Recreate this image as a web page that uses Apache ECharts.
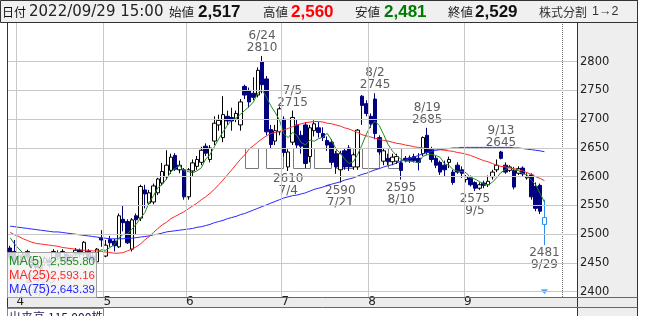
<!DOCTYPE html>
<html><head><meta charset="utf-8">
<script src="https://cdn.jsdelivr.net/npm/echarts@6/dist/echarts.min.js"></script>
<style>html,body{margin:0;padding:0;background:#fff}#c{width:645px;height:316px}</style>
</head><body><div id="c"></div>
<script>
const tradingDates = [
'3/30','3/31',
'4/1','4/4','4/5','4/6','4/7','4/8','4/11','4/12','4/13','4/14','4/15','4/18','4/19','4/20','4/21','4/22','4/25','4/26','4/27','4/28',
'5/2','5/6','5/9','5/10','5/11','5/12','5/13','5/16','5/17','5/18','5/19','5/20','5/23','5/24','5/25','5/26','5/27','5/30','5/31',
'6/1','6/2','6/3','6/6','6/7','6/8','6/9','6/10','6/13','6/14','6/15','6/16','6/17','6/20','6/21','6/22','6/23','6/24','6/27','6/28','6/29','6/30',
'7/1','7/4','7/5','7/6','7/7','7/8','7/11','7/12','7/13','7/14','7/15','7/19','7/20','7/21','7/22','7/25','7/26','7/27','7/28','7/29',
'8/1','8/2','8/3','8/4','8/5','8/8','8/9','8/10','8/12','8/15','8/16','8/17','8/18','8/19','8/22','8/23','8/24','8/25','8/26','8/29','8/30','8/31',
'9/1','9/2','9/5','9/6','9/7','9/8','9/9','9/12','9/13','9/14','9/15','9/16','9/20','9/21','9/22','9/26','9/27','9/28','9/29'];
const futureDates = ['9/30','10/3','10/4','10/5','10/6','10/7','10/11'];

const opens = [2476,2470,
2452,2458,2470,2455,2448,2440,2450,2455,2448,2468,2458,2465,2455,2466,2472,2466,2470,2462,2452,2493,
2462,2491,2488,2478,2526,2522,2474,2532,2528,2577,2554,2556,2572,2589,2600,2611,2637,2612,2612,
2565,2610,2618,2625,2653,2630,2662,2690,2668,2705,2703,2700,2690,2757,2750,2745,2742,2800,2770,2682,2662,2678,
2700,2617,2660,2690,2672,2690,2635,2680,2685,2675,2663,2660,2640,2612,2645,2650,2617,2617,2740,2727,
2705,2735,2668,2627,2632,2626,2627,2624,2632,2633,2635,2632,2640,2672,2648,2632,2625,2620,2625,2608,2620,2612,
2595,2598,2590,2580,2589,2586,2600,2612,2643,2620,2611,2611,2606,2615,2598,2603,2583,2585,2517];
const highs = [2480,2490,
2466,2468,2473,2460,2452,2455,2462,2460,2474,2472,2474,2468,2465,2476,2475,2488,2474,2468,2476,2507,
2490,2497,2492,2536,2550,2526,2528,2536,2586,2586,2577,2588,2598,2624,2646,2640,2641,2628,2615,
2615,2630,2636,2652,2658,2655,2705,2708,2740,2715,2720,2715,2735,2760,2755,2773,2790,2810,2775,2690,2690,2722,
2705,2648,2715,2700,2680,2695,2690,2698,2695,2686,2670,2665,2645,2645,2650,2655,2642,2683,2742,2733,
2710,2745,2672,2650,2640,2640,2640,2628,2636,2637,2640,2641,2670,2685,2652,2636,2628,2628,2635,2612,2625,2618,
2603,2602,2592,2590,2593,2602,2612,2630,2645,2625,2620,2617,2618,2618,2606,2606,2590,2588,2560];
const lows = [2455,2450,
2445,2450,2455,2440,2438,2435,2445,2442,2445,2455,2452,2450,2448,2462,2460,2462,2455,2450,2449,2478,
2460,2478,2470,2476,2505,2483,2470,2500,2523,2545,2550,2552,2568,2585,2595,2605,2610,2606,2560,
2560,2600,2612,2620,2636,2625,2655,2680,2660,2690,2680,2695,2680,2735,2720,2733,2738,2745,2672,2650,2655,2672,
2635,2610,2655,2650,2640,2615,2625,2670,2668,2662,2645,2620,2605,2590,2612,2610,2612,2612,2690,2705,
2685,2665,2638,2620,2620,2620,2622,2595,2625,2624,2625,2611,2636,2638,2625,2615,2603,2600,2615,2586,2605,2598,
2590,2583,2575,2577,2580,2582,2595,2608,2630,2605,2608,2578,2603,2600,2595,2560,2540,2535,2481];
const closes = [2460,2455,
2462,2464,2460,2445,2442,2450,2458,2446,2470,2460,2470,2455,2462,2472,2465,2486,2460,2455,2474,2490,
2481,2485,2480,2532,2520,2485,2525,2525,2583,2570,2572,2584,2596,2609,2620,2634,2613,2620,2565,
2612,2624,2630,2646,2641,2650,2693,2698,2708,2697,2697,2710,2730,2742,2730,2738,2785,2760,2678,2656,2680,2718,
2642,2643,2703,2655,2653,2623,2685,2692,2677,2668,2655,2625,2617,2640,2617,2617,2638,2681,2724,2710,
2692,2675,2643,2645,2626,2634,2635,2611,2628,2628,2628,2625,2668,2642,2630,2620,2608,2612,2630,2590,2608,2606,
2600,2586,2580,2586,2585,2592,2608,2620,2632,2608,2617,2582,2614,2605,2600,2565,2545,2540,2529];
const priorCloses = [2510,2505,2500,2495];

const ma25 = [2503,2499,2496,2492,2489,2486,2484,2483,2482,2481,
2480,2479,2477,2476,2475,2474,2473,2472,2472,2471,
2471,2470,2469,2468,2467,2467,2468,2471,2474,2478,
2483,2490,2496,2503,2510,2516,2521,2527,2531,2535,
2539,2544,2549,2554,2560,2565,2571,2578,2586,2594,
2603,2612,2621,2630,2638,2648,2654,2660,2666,2671,
2675,2677,2679,2681,2684,2687,2690,2692,2694,2695,
2696,2696,2695,2693,2692,2690,2688,2685,2683,2680,
2677,2673,2671,2669,2667,2665,2663,2662,2660,2658,
2657,2655,2654,2652,2651,2650,2649,2648,2648,2647,
2646,2645,2644,2642,2641,2639,2637,2634,2631,2628,
2626,2623,2620,2618,2617,2615,2614,2612,2610,2607,
2604,2600,2597,2593.16];
const ma75 = [2514,2513,2512,2511,2510,2509,2508,2507,2506,2505,
2504,2504,2503,2502,2501,2500,2499,2498,2497,2496,
2495,2494,2493,2492,2492,2492,2492,2493,2493,2494,
2495,2496,2497,2499,2500,2502,2504,2505,2506,2507,
2508,2509,2510,2512,2513,2515,2517,2520,2522,2524,
2527,2529,2531,2534,2536,2539,2542,2545,2548,2551,
2554,2557,2560,2563,2565,2567,2568,2570,2572,2575,
2578,2580,2582,2585,2587,2589,2591,2594,2596,2598,
2601,2604,2606,2609,2612,2614,2617,2619,2621,2624,
2627,2629,2632,2634,2637,2640,2642,2644,2646,2647,
2648,2649,2650,2650,2651,2651,2651,2651,2651,2651,
2651,2651,2651,2651,2651,2651,2650,2650,2649,2648,
2647,2646,2645,2643.39];

const yTicks = [2400,2450,2500,2550,2600,2650,2700,2750,2800];
const monthStarts = {'4/1':'4','5/2':'5','6/1':'6','7/1':'7','8/1':'8','9/1':'9'};
const highMarks = [['6/24',2810],['7/5',2715],['8/2',2745],['8/19',2685],['9/13',2645]];
const lowMarks = [['4/8',2435],['7/4',2610],['7/21',2590],['8/10',2595],['9/5',2575],['9/29',2481]];
const boxes = [[53.5,57.2,2616,2650],[59,62.7,2616,2650],[64.5,68.5,2616,2650],[69.8,73.8,2616,2650],[75.4,79.2,2616,2650],[81,84.7,2616,2650],[86.6,90.2,2616,2650]];
const splitMarks = [['9/29',2400]];
const splitDate = '9/29';
const dottedLineAt = 127.4;
const headerDate = '2022/09/29 15:00';
const headerLabels = ['始値','高値','安値','終値'];
const headerValues = ['2,517','2,560','2,481','2,529'];
const splitText = ['株式分割','1→2'];
const maNames = ['MA(5)','MA(25)','MA(75)'];
const maValues = ['2,555.80','2,593.16','2,643.39'];
const volumeText = ['出来高','115,000株'];

const categories = tradingDates.concat(futureDates);
const allCloses = priorCloses.concat(closes);
const ma5 = closes.map((c,i)=>{let s=0;for(let k=0;k<5;k++)s+=allCloses[i+4-k];return +(s/5).toFixed(2);});
const candleData = tradingDates.map((d,i)=>{
  const v=[opens[i],closes[i],lows[i],highs[i]];
  if(d===splitDate) return {value:v,itemStyle:{color:'#ffffff',borderColor:'#2b8ef0',color0:'#ffffff',borderColor0:'#2b8ef0'}};
  return v;
});

const CJK = '"Noto Sans CJK JP", sans-serif';
const LAT = '"DejaVu Sans", "Noto Sans CJK JP", sans-serif';
const ARI = '"Liberation Sans", "Noto Sans CJK JP", sans-serif';
const MA_COLORS = ['#1f8a1f','#ff2828','#2828ff'];
const chart = echarts.init(document.getElementById('c'), null, {renderer:'canvas'});

const g = [];
g.push({type:'rect', z:1, shape:{x:577,y:23,width:61,height:293}, style:{fill:'#eeeeee'}});
g.push({type:'rect', z:1, shape:{x:8,y:297,width:630,height:10}, style:{fill:'#ececec'}});
g.push({type:'line', z:40, shape:{x1:7.5,y1:22,x2:7.5,y2:316}, style:{stroke:'#333',lineWidth:1}});
g.push({type:'line', z:40, shape:{x1:577.5,y1:22,x2:577.5,y2:316}, style:{stroke:'#333',lineWidth:1}});
g.push({type:'line', z:40, shape:{x1:637.5,y1:0,x2:637.5,y2:316}, style:{stroke:'#333',lineWidth:1}});
g.push({type:'line', z:40, shape:{x1:7.5,y1:297.5,x2:637.5,y2:297.5}, style:{stroke:'#666',lineWidth:1}});
g.push({type:'line', z:40, shape:{x1:7.5,y1:307.5,x2:637.5,y2:307.5}, style:{stroke:'#666',lineWidth:1}});
g.push({type:'rect', z:30, shape:{x:0.5,y:0.5,width:637,height:22}, style:{fill:'#f0f0f0',stroke:'#333',lineWidth:1}});
const hy = 12;
g.push({type:'text', z:31, style:{x:2,y:hy,text:'日付',fontSize:12,fontFamily:CJK,fill:'#111',verticalAlign:'middle'}});
g.push({type:'text', z:31, style:{x:29,y:hy,text:headerDate,fontSize:15,fontFamily:LAT,fill:'#222',verticalAlign:'middle'}});
const hLabelX = [169,263,355,448], hValX = [198,291,384,475];
const hValColors = ['#111','#ff0000','#007a00','#111'];
headerLabels.forEach((t,k)=>{
  g.push({type:'text', z:31, style:{x:hLabelX[k],y:hy,text:t,fontSize:12.5,fontFamily:CJK,fill:'#222',verticalAlign:'middle'}});
  g.push({type:'text', z:31, style:{x:hValX[k],y:hy,text:headerValues[k],fontSize:17,fontWeight:'bold',fontFamily:ARI,fill:hValColors[k],verticalAlign:'middle'}});
});
g.push({type:'text', z:31, style:{x:539,y:hy,text:splitText[0],fontSize:12,fontFamily:CJK,fill:'#333',verticalAlign:'middle'}});
g.push({type:'text', z:31, style:{x:592,y:hy,text:splitText[1],fontSize:12.5,fontFamily:ARI,fill:'#333',verticalAlign:'middle'}});
g.push({type:'rect', z:50, shape:{x:7.5,y:252.5,width:89,height:45}, style:{fill:'rgba(242,242,242,0.85)',stroke:'#a0a0a0',lineWidth:1}});
const legY = [261.5,275.5,289.5];
maNames.forEach((t,k)=>{
  g.push({type:'text', z:51, style:{x:9,y:legY[k],text:t,fontSize:12.5,fontFamily:ARI,fill:MA_COLORS[k],verticalAlign:'middle'}});
  g.push({type:'text', z:51, style:{x:95,y:legY[k],text:maValues[k],fontSize:11.5,fontFamily:ARI,fill:MA_COLORS[k],verticalAlign:'middle',align:'right'}});
});
g.push({type:'rect', z:45, shape:{x:7.5,y:308.5,width:96,height:14}, style:{fill:'#ffffff',stroke:'#888',lineWidth:1}});
g.push({type:'text', z:46, style:{x:9,y:317,text:volumeText[0],fontSize:12,fontFamily:CJK,fill:'#1a1a50',verticalAlign:'middle'}});
g.push({type:'text', z:46, style:{x:48,y:317,text:volumeText[1],fontSize:12,fontFamily:CJK,fill:'#1a1a50',verticalAlign:'middle'}});

const monthInterval = (idx) => Object.prototype.hasOwnProperty.call(monthStarts, categories[idx]);

const option = {
  animation:false,
  backgroundColor:'#ffffff',
  textStyle:{fontFamily:LAT},
  grid:{left:8,top:23,width:569,height:274,show:false},
  xAxis:{
    type:'category', data:categories, boundaryGap:true, z:20,
    axisLine:{show:false},
    axisTick:{show:false, interval:monthInterval},
    axisLabel:{interval:monthInterval, formatter:v=>monthStarts[v]||'', fontSize:12, color:'#222', margin:-1, padding:[0,0,0,3], fontFamily:LAT},
    splitLine:{show:true, interval:monthInterval, lineStyle:{color:'#c8c8c8',width:1}}
  },
  yAxis:{
    type:'value', position:'right', min:2390.8, max:2867.3, z:20, scale:true,
    axisLine:{show:false},
    axisTick:{show:false, customValues:yTicks},
    axisLabel:{customValues:yTicks, formatter:v=>String(v), margin:3, fontSize:11.5, color:'#222', align:'left', fontFamily:LAT},
    splitLine:{show:true, lineStyle:{color:'#c8c8c8',width:1}}
  },
  graphic:g,
  series:[
    {type:'custom', z:2, silent:true, data:boxes, encode:{x:[0,1],y:[2,3]},
     renderItem:(params,api)=>{
       const p0=api.coord([api.value(0),api.value(3)]);
       const p1=api.coord([api.value(1),api.value(2)]);
       return {type:'rect', shape:{x:Math.round(p0[0])+0.5,y:Math.round(p0[1])+0.5,width:Math.round(p1[0]-p0[0]),height:Math.round(p1[1]-p0[1])}, style:{fill:'none',stroke:'#7a7a7a',lineWidth:1}};
     }},
    {type:'candlestick', z:3, data:candleData, barWidth:4,
     itemStyle:{color:'#ffffff',color0:'#000080',borderColor:'#000000',borderColor0:'#000080',borderWidth:1}},
    {type:'line', z:4, data:ma75, symbol:'none', lineStyle:{color:MA_COLORS[2],width:1}},
    {type:'line', z:4, data:ma25, symbol:'none', lineStyle:{color:MA_COLORS[1],width:1}},
    {type:'line', z:4, data:ma5, symbol:'none', lineStyle:{color:MA_COLORS[0],width:1}},
    {type:'scatter', z:5, data:highMarks, symbolSize:0, silent:true,
     label:{show:true, position:'top', distance:2, formatter:p=>p.value[0]+'\n'+p.value[1], fontSize:12, lineHeight:12, color:'#333', fontFamily:LAT}},
    {type:'scatter', z:5, data:lowMarks, symbolSize:0, silent:true,
     label:{show:true, position:'bottom', distance:2, formatter:p=>p.value[1]+'\n'+p.value[0], fontSize:12, lineHeight:12, color:'#333', fontFamily:LAT}},
    {type:'scatter', z:6, data:splitMarks, symbol:'triangle', symbolRotate:180, symbolSize:[7,5], itemStyle:{color:'#2b8ef0'}, silent:true,
     markLine:{silent:true, symbol:'none', label:{show:false}, lineStyle:{type:'dotted',color:'#777',width:1}, data:[{xAxis:dottedLineAt}]}}
  ]
};
chart.setOption(option);
</script>
</body></html>
